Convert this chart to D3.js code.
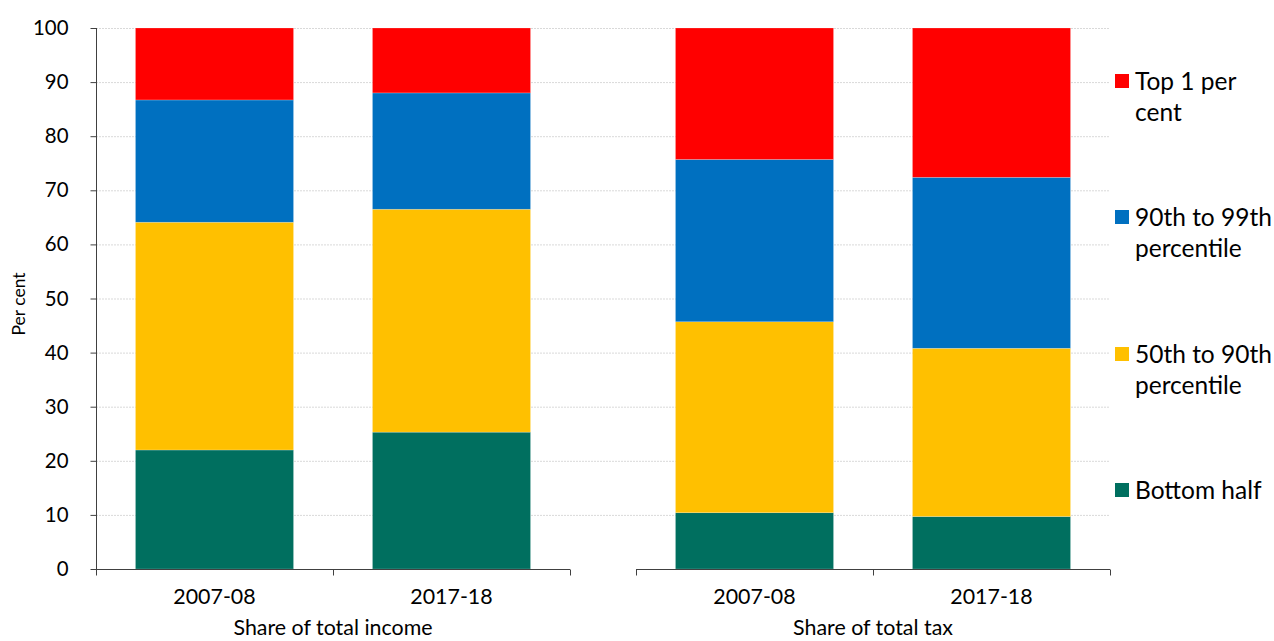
<!DOCTYPE html>
<html><head><meta charset="utf-8">
<script src="https://cdn.jsdelivr.net/npm/d3@7"></script>
<style>body{margin:0;background:#fff;} text{font-family:"Lato","Open Sans",sans-serif;fill:#000;}</style>
</head><body>
<svg id="c" width="1274" height="641"></svg>
<script>
const panels = ["Share of total income", "Share of total tax"];
const years = ["2007-08", "2017-18"];
const seriesNames = ["Bottom half", "50th to 90th percentile", "90th to 99th percentile", "Top 1 per cent"];
const colors = ["#006F5F", "#FFC000", "#0070C0", "#FF0000"];
// values per panel, per year: [bottom half, 50-90, 90-99, top 1]
const incomeBottom = [22.0, 25.3];
const income5090 = [42.1, 41.2];
const income9099 = [22.6, 21.5];
const incomeTop1 = [13.3, 12.0];
const taxBottom = [10.4, 9.7];
const tax5090 = [35.3, 31.1];
const tax9099 = [30.0, 31.6];
const taxTop1 = [24.3, 27.6];
const yTicks = [0,10,20,30,40,50,60,70,80,90,100];

const svg = d3.select("#c");
const y = d3.scaleLinear().domain([0,100]).range([569,28]);

// gridlines
svg.append("g").selectAll("line").data(yTicks.filter(d=>d>0)).join("line")
  .attr("x1",96).attr("x2",1110).attr("y1",d=>y(d)+0.5).attr("y2",d=>y(d)+0.5)
  .attr("stroke","#d9d9d9").attr("stroke-width",1).attr("stroke-dasharray","2,1");

const panelData = [
  [incomeBottom, income5090, income9099, incomeTop1],
  [taxBottom, tax5090, tax9099, taxTop1]
];
const panelX = [[96,570],[636,1110]];

panelData.forEach((pd, pi) => {
  const x = d3.scaleBand().domain(years).range(panelX[pi]).paddingInner(0.333).paddingOuter(0.1665);
  const rows = years.map((yr,i)=>{const o={year:yr}; seriesNames.forEach((s,k)=>o[s]=pd[k][i]); return o;});
  const stack = d3.stack().keys(seriesNames)(rows);
  const g = svg.append("g");
  stack.forEach((layer,k)=>{
    g.selectAll(null).data(layer).join("rect")
      .attr("x",d=>x(d.data.year)).attr("width",x.bandwidth())
      .attr("y",d=>y(d[1])).attr("height",d=>y(d[0])-y(d[1]))
      .attr("fill",colors[k]).attr("stroke","rgba(255,255,255,0.35)").attr("stroke-width",0.6);
  });
  // x axis
  const ax = svg.append("g").attr("transform","translate(0,569.5)");
  ax.append("line").attr("x1",panelX[pi][0]).attr("x2",panelX[pi][1]).attr("stroke","#404040");
  const tickPos = [panelX[pi][0], (panelX[pi][0]+panelX[pi][1])/2, panelX[pi][1]];
  ax.selectAll(null).data(tickPos).join("line")
    .attr("x1",d=>Math.round(d)+0.5).attr("x2",d=>Math.round(d)+0.5).attr("y1",0).attr("y2",6).attr("stroke","#404040");
  ax.selectAll(null).data(years).join("text")
    .attr("x",d=>x(d)+x.bandwidth()/2).attr("y",34).attr("text-anchor","middle")
    .attr("font-size",21.4).text(d=>d);
  svg.append("text").attr("x",(panelX[pi][0]+panelX[pi][1])/2).attr("y",635)
    .attr("text-anchor","middle").attr("font-size",21.4).text(panels[pi]);
});

// y axis
const yAxis = svg.append("g").attr("transform","translate(96.5,0)");
yAxis.append("line").attr("y1",28).attr("y2",569).attr("stroke","#404040");
yAxis.selectAll(null).data(yTicks).join("line")
  .attr("x1",-6).attr("x2",0).attr("y1",d=>y(d)+0.5).attr("y2",d=>y(d)+0.5).attr("stroke","#404040");
yAxis.selectAll(null).data(yTicks).join("text")
  .attr("x",-28).attr("y",d=>y(d)+7).attr("text-anchor","end").attr("font-size",20.4).text(d=>d);
svg.append("text").attr("transform","translate(25,304) rotate(-90)").attr("text-anchor","middle")
  .attr("font-size",17.5).text("Per cent");

// legend
const legendLines = [["Bottom half"],["50th to 90th","percentile"],["90th to 99th","percentile"],["Top 1 per","cent"]];
const legendY = [490, 354, 217, 81];
legendLines.forEach((lines,k)=>{
  svg.append("rect").attr("x",1115).attr("y",legendY[k]-7).attr("width",14).attr("height",14).attr("fill",colors[k]);
  lines.forEach((t,j)=>{
    svg.append("text").attr("x",1135).attr("y",legendY[k]+9+j*31).attr("font-size",24.5).text(t);
  });
});
</script>
</body></html>
